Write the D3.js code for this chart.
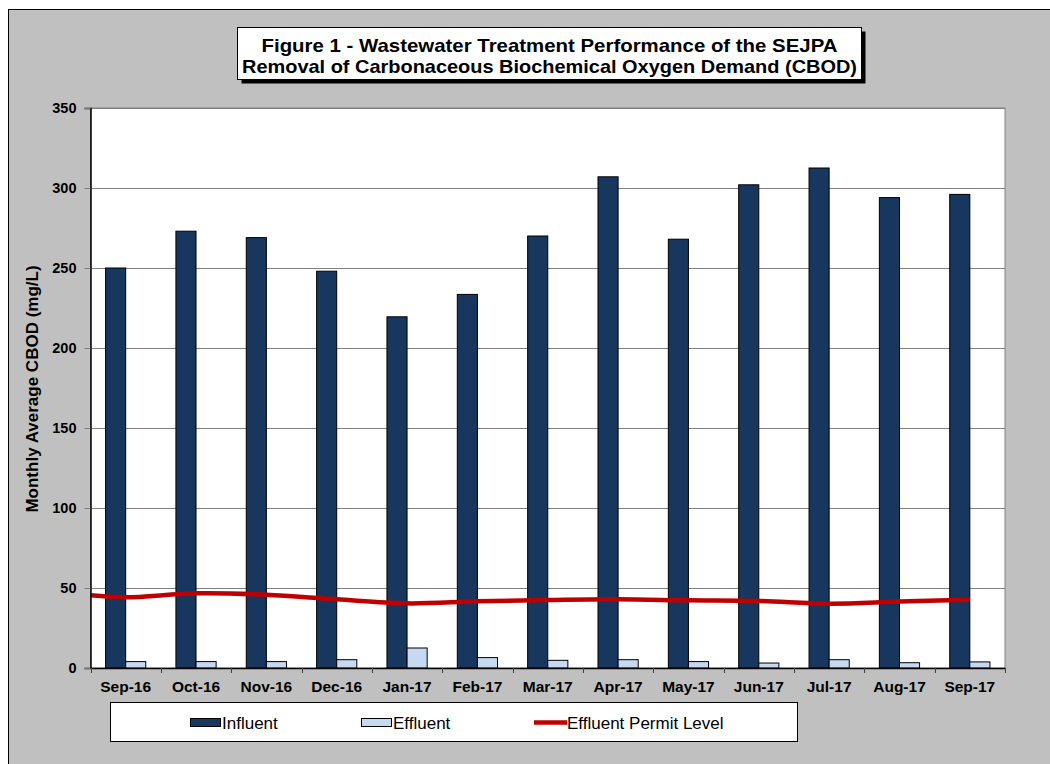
<!DOCTYPE html>
<html>
<head>
<meta charset="utf-8">
<script src="https://cdn.jsdelivr.net/npm/d3@7"></script>
<style>
  body { margin: 0; background: #ffffff; }
  svg { display: block; font-family: "Liberation Sans", Arial, sans-serif; }
</style>
</head>
<body>
<svg id="chart" width="1050" height="764"></svg>
<script>
const categories = ["Sep-16","Oct-16","Nov-16","Dec-16","Jan-17","Feb-17","Mar-17","Apr-17","May-17","Jun-17","Jul-17","Aug-17","Sep-17"];
const influent = [250, 273, 269, 248, 219.5, 233.5, 270, 307, 268, 302, 312.5, 294, 296];
const effluent = [4.0, 4.0, 4.0, 5.2, 12.5, 6.5, 4.8, 5.2, 4.0, 3.1, 5.2, 3.3, 3.8];
const permitLevel = [44.2, 46.7, 45.8, 42.9, 40.4, 41.7, 42.5, 42.9, 42.3, 41.9, 40.2, 41.5, 42.7];
const permitLeadIn = 45.4; // value where the line meets the left axis
const yTicks = [0, 50, 100, 150, 200, 250, 300, 350];
const seriesNames = ["Influent", "Effluent", "Effluent Permit Level"];
const titleLines = ["Figure 1 - Wastewater Treatment Performance of the SEJPA",
                    "Removal of Carbonaceous Biochemical Oxygen Demand (CBOD)"];
const yTitle = "Monthly Average CBOD (mg/L)";

const colInfluent = "#17375e";
const colEffluent = "#c6d9f1";
const colPermit = "#c00000";
const FONT = "'Liberation Sans', Arial, sans-serif";

const svg = d3.select("#chart");

// outer frame / background
svg.append("rect").attr("x", 8.5).attr("y", 9.5).attr("width", 1100).attr("height", 800)
  .attr("fill", "#c0c0c0").attr("stroke", "#000").attr("stroke-width", 1);

const plot = {left: 90.5, right: 1005, top: 108, bottom: 668};

const x = d3.scaleBand().domain(categories).range([plot.left, plot.right]).paddingInner(0).paddingOuter(0);
const xs = d3.scaleBand().domain(["Influent", "Effluent"]).range([0, x.bandwidth()]).paddingInner(0).paddingOuter(0.75);
const y = d3.scaleLinear().domain([0, 350]).range([plot.bottom, plot.top]);

// plot area
svg.append("rect").attr("x", plot.left).attr("y", plot.top)
  .attr("width", plot.right - plot.left).attr("height", plot.bottom - plot.top)
  .attr("fill", "#fff").attr("stroke", "#808080").attr("stroke-width", 1);

// gridlines
svg.append("g").selectAll("line").data(yTicks.filter(d => d > 0)).join("line")
  .attr("x1", plot.left).attr("x2", plot.right)
  .attr("y1", d => Math.round(y(d)) + 0.5).attr("y2", d => Math.round(y(d)) + 0.5)
  .attr("stroke", "#808080").attr("stroke-width", 1);

// bars
const gBars = svg.append("g");
categories.forEach((c, i) => {
  gBars.append("rect")
    .attr("x", x(c) + xs("Influent")).attr("y", y(influent[i]))
    .attr("width", xs.bandwidth()).attr("height", y(0) - y(influent[i]))
    .attr("fill", colInfluent).attr("stroke", "#000").attr("stroke-width", 1);
  gBars.append("rect")
    .attr("x", x(c) + xs("Effluent")).attr("y", y(effluent[i]))
    .attr("width", xs.bandwidth()).attr("height", y(0) - y(effluent[i]))
    .attr("fill", colEffluent).attr("stroke", "#000").attr("stroke-width", 1);
});

// permit line
const pts = [[plot.left, y(permitLeadIn)]].concat(
  categories.map((c, i) => [x(c) + x.bandwidth() / 2, y(permitLevel[i])]));
svg.append("path").attr("d", d3.line().curve(d3.curveCatmullRom.alpha(0.5))(pts))
  .attr("fill", "none").attr("stroke", colPermit).attr("stroke-width", 4.5);

// y axis
const yAxis = d3.axisLeft(y).tickValues(yTicks).tickSize(6).tickPadding(8).tickFormat(d3.format("d"));
const gy = svg.append("g").attr("transform", `translate(${plot.left},0)`).call(yAxis);
gy.select(".domain").attr("stroke", "#000").attr("stroke-width", 1.5);
gy.selectAll(".tick line").attr("stroke", "#808080");
gy.selectAll(".tick text").attr("font-size", 14.5).attr("font-weight", "bold").attr("fill", "#000")
  .attr("font-family", FONT);

// x axis
const xAxis = d3.axisBottom(x).tickSize(0).tickPadding(13);
const gx = svg.append("g").attr("transform", `translate(0,${plot.bottom})`).call(xAxis);
gx.select(".domain").attr("stroke", "#000").attr("stroke-width", 1.5);
gx.selectAll(".tick text").attr("font-size", 15.5).attr("font-weight", "bold").attr("fill", "#000")
  .attr("font-family", FONT);
// category boundary tick marks
const bounds = categories.map(c => x(c)).concat([plot.right]);
svg.append("g").selectAll("line").data(bounds).join("line")
  .attr("x1", d => Math.round(d) + 0.5).attr("x2", d => Math.round(d) + 0.5)
  .attr("y1", plot.bottom).attr("y2", plot.bottom + 5)
  .attr("stroke", "#404040").attr("stroke-width", 1);

// y title
svg.append("text").attr("transform", `translate(38,${(plot.top + plot.bottom) / 2 + 1}) rotate(-90)`)
  .attr("text-anchor", "middle").attr("font-size", 17).attr("font-weight", "bold").text(yTitle);

// title box
const tb = {x: 237.5, y: 27.5, w: 624, h: 52};
svg.append("rect").attr("x", tb.x + 4).attr("y", tb.y + 4).attr("width", tb.w).attr("height", tb.h).attr("fill", "#000");
svg.append("rect").attr("x", tb.x).attr("y", tb.y).attr("width", tb.w).attr("height", tb.h)
  .attr("fill", "#fff").attr("stroke", "#000").attr("stroke-width", 1);
const titleWidths = [576, 615];
svg.append("g").selectAll("text").data(titleLines).join("text")
  .attr("x", tb.x + tb.w / 2).attr("y", (d, i) => 52 + i * 21)
  .attr("text-anchor", "middle").attr("font-size", 18.5).attr("font-weight", "bold")
  .attr("textLength", (d, i) => titleWidths[i]).attr("lengthAdjust", "spacingAndGlyphs")
  .text(d => d);

// legend
svg.append("rect").attr("x", 110.5).attr("y", 702.5).attr("width", 687).attr("height", 39)
  .attr("fill", "#fff").attr("stroke", "#000").attr("stroke-width", 1);
const legendX = [190, 361, 534];
const lg = svg.append("g");
seriesNames.forEach((name, i) => {
  const lx = legendX[i];
  if (i < 2) {
    lg.append("rect").attr("x", lx + 0.5).attr("y", 718.5).attr("width", 30).attr("height", 8)
      .attr("fill", i === 0 ? colInfluent : colEffluent).attr("stroke", "#000").attr("stroke-width", 1);
  } else {
    lg.append("line").attr("x1", lx).attr("x2", lx + 33).attr("y1", 722.5).attr("y2", 722.5)
      .attr("stroke", colPermit).attr("stroke-width", 4.5);
  }
  lg.append("text").attr("x", lx + (i < 2 ? 32 : 33)).attr("y", 728.5)
    .attr("font-size", 17).text(name);
});
</script>
</body>
</html>
